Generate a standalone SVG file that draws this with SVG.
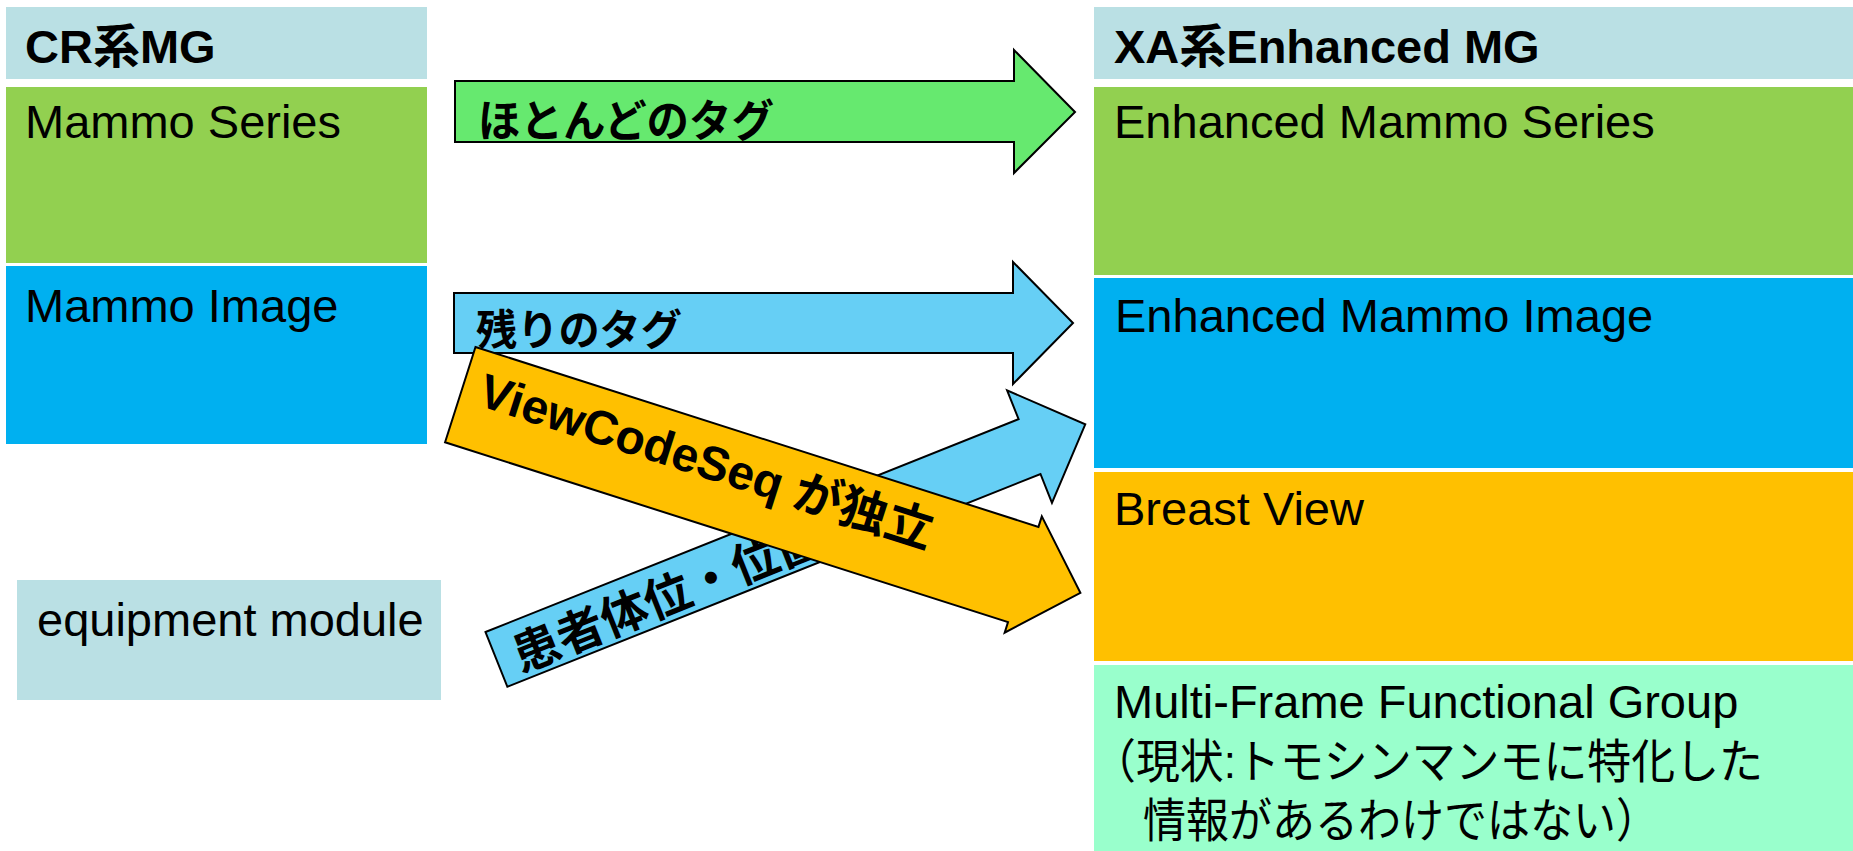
<svg xmlns="http://www.w3.org/2000/svg" width="1853" height="851" viewBox="0 0 1853 851">
  <style>
    .lat { font-family: "Liberation Sans", Arial, "Noto Sans CJK JP", sans-serif; font-size: 47px; fill: #000; }
    .hdr { font-weight: bold; }
    .jp { font-family: "Noto Sans CJK JP", "Liberation Sans", sans-serif; fill: #000; }
    .lbl { font-family: "Liberation Sans", Arial, "Noto Sans CJK JP", sans-serif; font-weight: bold; fill: #000; }
    .arrow { stroke: #000; stroke-width: 2; stroke-linejoin: miter; }
    .head { fill: #BAE0E4; }
    .series { fill: #92D050; }
    .image { fill: #00B0F0; }
    .view { fill: #FFC000; }
    .mf { fill: #99FFCC; }
  </style>
  <rect width="1853" height="851" fill="#FFFFFF"/>

  <!-- left column: CR family MG -->
  <g id="cr-header">
    <rect class="head" x="6" y="7" width="421" height="72"/>
    <text class="lat hdr" x="25" y="63">CR系MG</text>
  </g>
  <g id="mammo-series">
    <rect class="series" x="6" y="87" width="421" height="176"/>
    <text class="lat" x="25" y="138">Mammo Series</text>
  </g>
  <g id="mammo-image">
    <rect class="image" x="6" y="266" width="421" height="178"/>
    <text class="lat" x="25" y="322">Mammo Image</text>
  </g>
  <g id="equipment-module">
    <rect class="head" x="17" y="580" width="424" height="120"/>
    <text class="lat" x="37" y="636">equipment module</text>
  </g>

  <!-- right column: XA family Enhanced MG -->
  <g id="xa-header">
    <rect class="head" x="1094" y="7" width="759" height="72"/>
    <text class="lat hdr" x="1114" y="63">XA系Enhanced MG</text>
  </g>
  <g id="enh-mammo-series">
    <rect class="series" x="1094" y="87" width="759" height="188"/>
    <text class="lat" x="1114" y="138">Enhanced Mammo Series</text>
  </g>
  <g id="enh-mammo-image">
    <rect class="image" x="1094" y="278" width="759" height="190"/>
    <text class="lat" x="1115" y="332">Enhanced Mammo Image</text>
  </g>
  <g id="breast-view">
    <rect class="view" x="1094" y="472" width="759" height="189"/>
    <text class="lat" x="1114" y="525">Breast View</text>
  </g>
  <g id="multi-frame">
    <rect class="mf" x="1094" y="665" width="759" height="186"/>
    <text class="lat" x="1114" y="718">Multi-Frame Functional Group</text>
    <text class="lat" x="1092" y="778" textLength="671" lengthAdjust="spacingAndGlyphs">（現状:トモシンマンモに特化した</text>
    <text class="lat" x="1143" y="837" textLength="516" lengthAdjust="spacingAndGlyphs">情報があるわけではない）</text>
  </g>

  <!-- block arrows between the two columns -->
  <g id="connectors">
    <g id="arrow-most-tags">
      <polygon class="arrow" fill="#66E96F" points="455,81 1014,81 1014,50 1075,112 1014,173 1014,142 455,142"/>
      <text class="jp" x="478" y="137" font-size="44" font-weight="bold" textLength="296" lengthAdjust="spacingAndGlyphs">ほとんどのタグ</text>
    </g>
    <g id="arrow-rest-tags">
      <polygon class="arrow" fill="#66CFF5" points="454,293 1013,293 1013,262 1073,323 1013,384 1013,353 454,353"/>
      <text class="jp" x="476" y="345" font-size="42" font-weight="bold" textLength="206" lengthAdjust="spacingAndGlyphs">残りのタグ</text>
    </g>
    <g id="arrow-position" transform="translate(485.5,632) rotate(-21.76)">
      <polygon class="arrow" fill="#66CFF5" points="0,0 574,0 574,-31 634,29.5 574,90 574,59 0,59"/>
      <text class="jp" x="18" y="51" font-size="47" font-weight="bold">患者体位・位置</text>
    </g>
    <g id="arrow-viewcode" transform="translate(475.5,347) rotate(17.72)">
      <polygon class="arrow" fill="#FFC000" points="0,0 591,0 591,-11 651,50 591,111 591,100 0,100"/>
      <text class="lbl" x="18" y="55" font-size="48">ViewCodeSeq が独立</text>
    </g>
  </g>
</svg>
